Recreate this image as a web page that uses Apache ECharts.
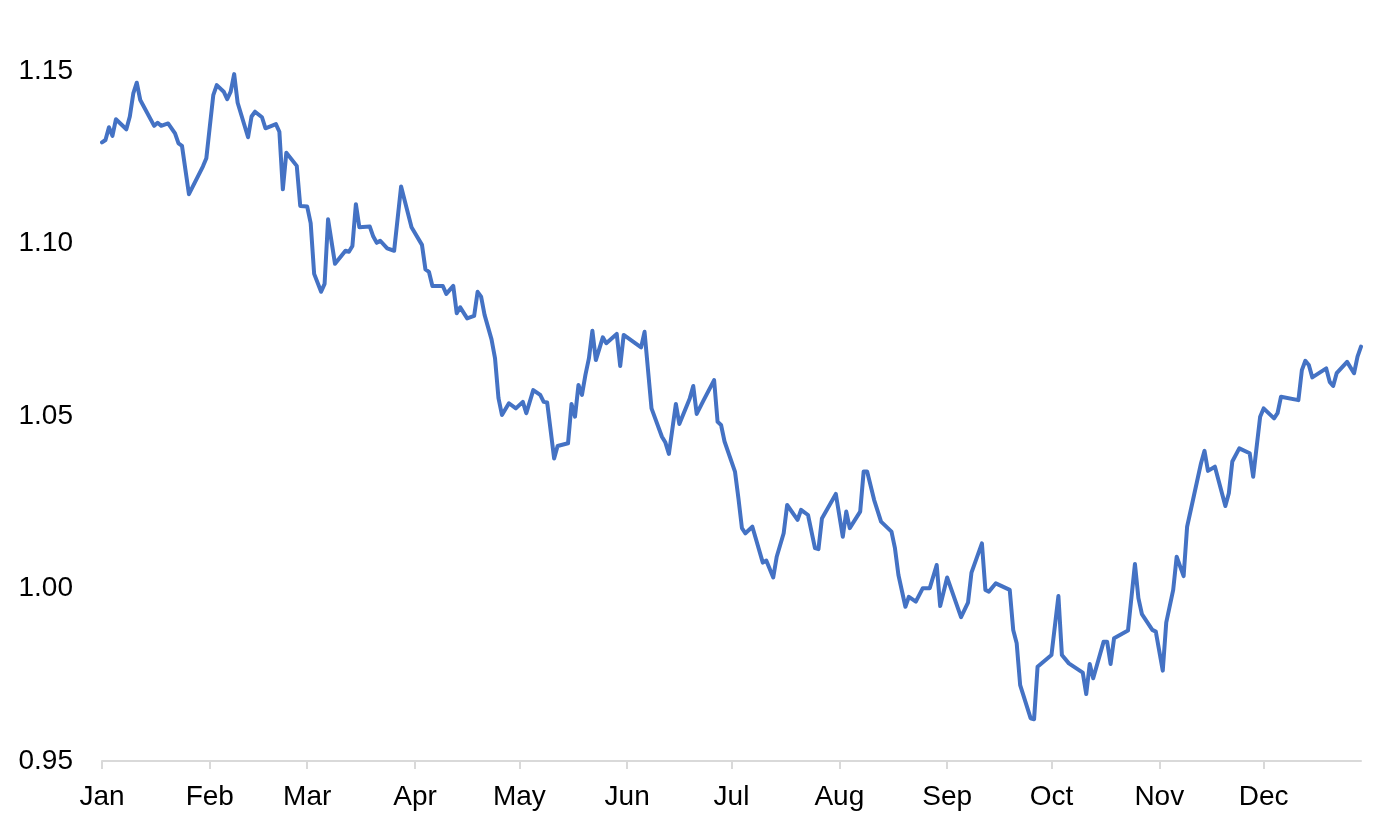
<!DOCTYPE html>
<html>
<head>
    <meta charset="utf-8">
    <title>Line chart</title>
    <style type="text/css">
        * {
            margin: 0;
            padding: 0;
        }
        body {
            background: #fff;
        }
    </style>
</head>
<body>
    <div id="main" style="width: 1392px; height: 832px;"></div>

    <script src="https://cdn.jsdelivr.net/npm/echarts@6/dist/echarts.min.js"></script>
    <script type="text/javascript">
        // day of year (0 = 1 Jan) of each point
        var days = [
            0, 1, 2, 3, 4, 7, 8, 9, 10, 11, 15, 16, 17, 19, 21, 22, 23, 25, 29, 30,
            31, 32, 33, 35, 36, 37, 38, 39, 42, 43, 44, 46, 47, 50, 51, 52, 53, 56, 57, 59,
            60, 61, 63, 64, 65, 67, 70, 71, 72, 73, 74, 77, 78, 79, 80, 82, 84, 86, 89, 92,
            93, 94, 95, 98, 99, 101, 102, 103, 105, 107, 108, 109, 110, 112, 113, 114, 115, 117, 119, 121,
            122, 124, 126, 127, 128, 130, 131, 134, 135, 136, 137, 138, 139, 140, 141, 142, 144, 145, 148, 149,
            150, 155, 156, 158, 161, 162, 163, 165, 166, 169, 170, 171, 173, 176, 177, 178, 179, 182, 183, 184,
            185, 187, 190, 191, 193, 194, 196, 197, 200, 201, 203, 205, 206, 207, 211, 213, 214, 215, 218, 219,
            220, 222, 224, 227, 228, 229, 231, 232, 234, 236, 238, 240, 241, 243, 247, 249, 250, 253, 254, 255,
            257, 261, 262, 263, 264, 267, 268, 269, 273, 275, 276, 278, 282, 283, 284, 285, 288, 289, 290, 291,
            295, 297, 298, 299, 302, 303, 305, 306, 308, 309, 311, 312, 314, 316, 317, 318, 320, 323, 324, 325,
            327, 330, 331, 333, 334, 337, 338, 339, 344, 345, 346, 347, 348, 352, 353, 354, 355, 358, 360, 361,
            362
        ];
        var values = [
            1.1293, 1.1300, 1.1337, 1.1312, 1.1360, 1.1331, 1.1368, 1.1435, 1.1466, 1.1416, 1.1341, 1.1350, 1.1341, 1.1348, 1.1319, 1.1290, 1.1283, 1.1143, 1.1223, 1.1247,
            1.1339, 1.1430, 1.1459, 1.1440, 1.1418, 1.1440, 1.1491, 1.1408, 1.1308, 1.1368, 1.1382, 1.1366, 1.1334, 1.1346, 1.1324, 1.1157, 1.1263, 1.1225, 1.1109, 1.1107,
            1.1059, 1.0912, 1.0860, 1.0883, 1.1070, 1.0941, 1.0979, 1.0976, 1.0993, 1.1114, 1.1047, 1.1049, 1.1020, 1.1002, 1.1008, 1.0986, 1.0979, 1.1165, 1.1047, 1.0996,
            1.0925, 1.0918, 1.0877, 1.0877, 1.0854, 1.0877, 1.0798, 1.0815, 1.0783, 1.0790, 1.0860, 1.0846, 1.0793, 1.0722, 1.0668, 1.0552, 1.0503, 1.0537, 1.0522, 1.0541,
            1.0508, 1.0575, 1.0561, 1.0541, 1.0539, 1.0377, 1.0413, 1.0421, 1.0535, 1.0498, 1.0590, 1.0561, 1.0619, 1.0667, 1.0747, 1.0662, 1.0728, 1.0711, 1.0738, 1.0645,
            1.0735, 1.0699, 1.0744, 1.0522, 1.0440, 1.0423, 1.0390, 1.0535, 1.0477, 1.0551, 1.0587, 1.0506, 1.0546, 1.0604, 1.0483, 1.0474, 1.0426, 1.0339, 1.0261, 1.0175,
            1.0160, 1.0179, 1.0075, 1.0081, 1.0032, 1.0092, 1.0160, 1.0242, 1.0199, 1.0228, 1.0213, 1.0117, 1.0114, 1.0203, 1.0274, 1.0150, 1.0223, 1.0175, 1.0223, 1.0339,
            1.0339, 1.0257, 1.0194, 1.0165, 1.0117, 1.0039, 0.9947, 0.9976, 0.9962, 1.0001, 1.0001, 1.0068, 0.9949, 1.0032, 0.9917, 0.9959, 1.0046, 1.0131, 0.9996, 0.9991,
            1.0015, 0.9996, 0.9880, 0.9841, 0.9720, 0.9624, 0.9621, 0.9773, 0.9807, 0.9978, 0.9807, 0.9783, 0.9756, 0.9694, 0.9781, 0.9740, 0.9846, 0.9846, 0.9781, 0.9856,
            0.9878, 1.0071, 0.9972, 0.9926, 0.9880, 0.9875, 0.9762, 0.9901, 0.9996, 1.0092, 1.0036, 1.0179, 1.0271, 1.0363, 1.0399, 1.0341, 1.0353, 1.0239, 1.0276, 1.0368,
            1.0406, 1.0392, 1.0324, 1.0498, 1.0522, 1.0493, 1.0508, 1.0556, 1.0546, 1.0633, 1.0660, 1.0648, 1.0612, 1.0638, 1.0599, 1.0587, 1.0624, 1.0657, 1.0624, 1.0672,
            1.0701
        ];
        var monthNames = ['Jan', 'Feb', 'Mar', 'Apr', 'May', 'Jun', 'Jul', 'Aug', 'Sep', 'Oct', 'Nov', 'Dec'];
        var yTicks = [0.95, 1.00, 1.05, 1.10, 1.15];
        var year = 2022;
        var lastDay = 362;

        // one category per calendar day, gaps bridged with connectNulls
        var categories = [];
        var seriesData = [];
        for (var d = 0; d <= lastDay; d++) {
            var dt = new Date(year, 0, 1 + d);
            categories.push(dt.getMonth() + '-' + dt.getDate());
            seriesData.push(null);
        }
        for (var i = 0; i < days.length; i++) {
            seriesData[days[i]] = values[i];
        }

        function isMonthStart(index) {
            return new Date(year, 0, 1 + index).getDate() === 1;
        }

        var chart = echarts.init(document.getElementById('main'));

        var option = {
            animation: false,
            grid: {
                left: 102,
                right: 31,
                top: 71,
                bottom: 71
            },
            xAxis: {
                type: 'category',
                data: categories,
                boundaryGap: false,
                axisLine: {
                    lineStyle: {
                        color: '#d9d9d9',
                        width: 2
                    }
                },
                axisTick: {
                    interval: isMonthStart,
                    length: 8,
                    lineStyle: {
                        color: '#d9d9d9',
                        width: 2
                    }
                },
                axisLabel: {
                    interval: isMonthStart,
                    margin: 22,
                    color: '#000',
                    fontSize: 28,
                    fontFamily: 'Liberation Sans, Arial, sans-serif',
                    formatter: function(val) {
                        return monthNames[parseInt(val.split('-')[0], 10)];
                    }
                },
                splitLine: {
                    show: false
                }
            },
            yAxis: {
                type: 'value',
                min: yTicks[0],
                max: yTicks[yTicks.length - 1],
                interval: 0.05,
                axisLine: {
                    show: false
                },
                axisTick: {
                    show: false
                },
                splitLine: {
                    show: false
                },
                axisLabel: {
                    margin: 29,
                    color: '#000',
                    fontSize: 28,
                    fontFamily: 'Liberation Sans, Arial, sans-serif',
                    formatter: function(v) {
                        return v.toFixed(2);
                    }
                }
            },
            series: [{
                type: 'line',
                data: seriesData,
                connectNulls: true,
                showSymbol: false,
                symbol: 'none',
                lineStyle: {
                    color: '#4472C4',
                    width: 4,
                    join: 'round',
                    cap: 'round'
                }
            }]
        };

        chart.setOption(option);
    </script>
</body>
</html>
